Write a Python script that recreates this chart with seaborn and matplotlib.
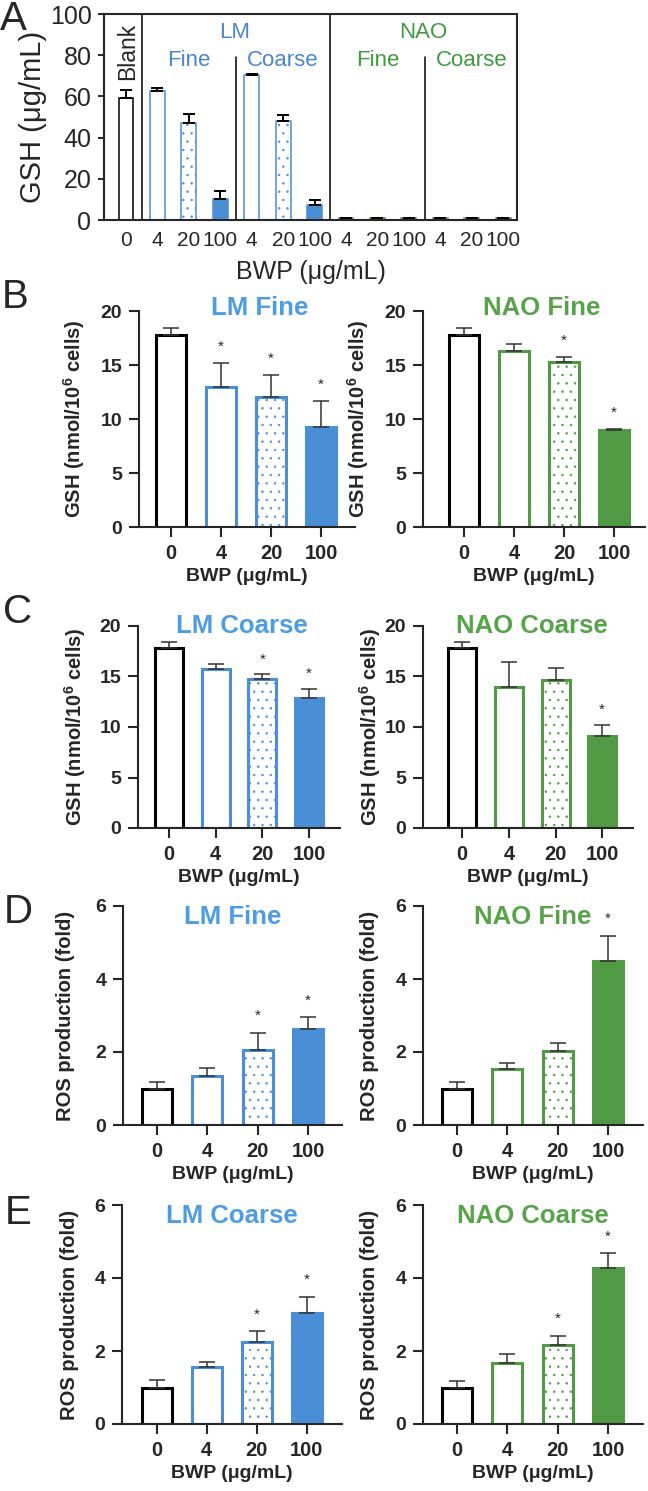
import numpy as np
import pandas as pd
import matplotlib
matplotlib.use('Agg')
import matplotlib.pyplot as plt
import seaborn as sns

# ─────────────────────────── Data ────────────────────────────────────────────

DOSES = ['0', '4', '20', '100']

# Panel A: cell-free GSH depletion
A_MATERIAL = ['Blank', 'LM', 'LM', 'LM', 'LM', 'LM', 'LM',
              'NAO', 'NAO', 'NAO', 'NAO', 'NAO', 'NAO']
A_SIZE = ['Blank', 'Fine', 'Fine', 'Fine', 'Coarse', 'Coarse', 'Coarse',
          'Fine', 'Fine', 'Fine', 'Coarse', 'Coarse', 'Coarse']
A_DOSE = ['0', '4', '20', '100', '4', '20', '100', '4', '20', '100', '4', '20', '100']
A_GSH = [59.0, 62.5, 47.0, 10.0, 70.5, 48.0, 7.5, 0.8, 0.8, 0.8, 0.8, 0.8, 0.8]
A_SEM = [4.3, 1.8, 4.3, 4.0, 0.3, 3.0, 2.0, 0.3, 0.3, 0.3, 0.3, 0.3, 0.3]

# Panels B/C: cellular GSH (nmol/10^6 cells)
GSH_LM_FINE = [17.8, 13.0, 12.0, 9.3]
GSH_LM_FINE_SEM = [0.6, 2.2, 2.1, 2.4]
GSH_LM_FINE_SIG = [False, True, True, True]

GSH_NAO_FINE = [17.8, 16.3, 15.25, 9.0]
GSH_NAO_FINE_SEM = [0.6, 0.6, 0.45, 0.1]
GSH_NAO_FINE_SIG = [False, False, True, True]

GSH_LM_COARSE = [17.8, 15.7, 14.8, 12.9]
GSH_LM_COARSE_SEM = [0.6, 0.5, 0.4, 0.9]
GSH_LM_COARSE_SIG = [False, False, True, True]

GSH_NAO_COARSE = [17.8, 14.0, 14.7, 9.1]
GSH_NAO_COARSE_SEM = [0.6, 2.4, 1.1, 1.1]
GSH_NAO_COARSE_SIG = [False, False, False, True]

# Panels D/E: ROS production (fold)
ROS_LM_FINE = [1.0, 1.34, 2.05, 2.63]
ROS_LM_FINE_SEM = [0.19, 0.22, 0.48, 0.32]
ROS_LM_FINE_SIG = [False, False, True, True]

ROS_NAO_FINE = [1.0, 1.54, 2.02, 4.49]
ROS_NAO_FINE_SEM = [0.19, 0.17, 0.23, 0.70]
ROS_NAO_FINE_SIG = [False, False, False, True]

ROS_LM_COARSE = [1.0, 1.55, 2.26, 3.04]
ROS_LM_COARSE_SEM = [0.20, 0.15, 0.29, 0.45]
ROS_LM_COARSE_SIG = [False, False, True, True]

ROS_NAO_COARSE = [1.0, 1.67, 2.17, 4.27]
ROS_NAO_COARSE_SEM = [0.18, 0.25, 0.25, 0.41]
ROS_NAO_COARSE_SIG = [False, False, True, True]

# ─────────────────────────── Style ───────────────────────────────────────────

W, H = 648, 1491
BLUE = '#4a8fd6'
GREEN = '#4f9a42'
BLUE_TXT = '#4d9de0'
GREEN_TXT = '#55a548'
ERR = '#333333'
MAT_COLOR = {'Blank': 'black', 'LM': BLUE, 'NAO': GREEN}

sns.set_style('ticks')
plt.rcParams['font.family'] = ['Liberation Sans', 'DejaVu Sans']
plt.rcParams['mathtext.default'] = 'regular'
plt.rcParams['hatch.linewidth'] = 0.5

fig = plt.figure(figsize=(W / 100, H / 100), dpi=100)


def px_axes(left, top, right, bottom):
    return fig.add_axes([left / W, 1 - bottom / H, (right - left) / W, (bottom - top) / H])


def bar_style(dose, color):
    # blank = open black, 4 = open, 20 = dotted, 100 = filled
    if dose == '0':
        return 'white', 'black', ''
    if dose == '4':
        return 'white', color, ''
    if dose == '20':
        return 'white', color, '..'
    return color, color, ''


# ─────────────────────────── Panel A ─────────────────────────────────────────

axA = px_axes(104, 14, 517, 220)
ids = [str(i) for i in range(len(A_GSH))]
dfA = pd.DataFrame({'id': ids, 'gsh': A_GSH})
sns.barplot(data=dfA, x='id', y='gsh', order=ids, color='white', width=0.47,
            errorbar=None, saturation=1, ax=axA)
for p, mat, dose in zip(axA.patches, A_MATERIAL, A_DOSE):
    fc, ec, h = bar_style(dose, MAT_COLOR[mat])
    p.set_facecolor(fc)
    p.set_edgecolor(ec)
    p.set_hatch(h)
    p.set_linewidth(1.1)
axA.errorbar(range(len(A_GSH)), A_GSH, yerr=[np.zeros(len(A_SEM)), A_SEM], fmt='none',
             ecolor='black', elinewidth=1.4, capsize=4.5, capthick=1.4, zorder=5)

# dividers between materials (full) and sizes (partial)
for i in range(1, len(A_MATERIAL)):
    if A_MATERIAL[i] != A_MATERIAL[i - 1]:
        axA.axvline(i - 0.5, color='black', lw=1.1)
    elif A_SIZE[i] != A_SIZE[i - 1]:
        axA.plot([i - 0.5, i - 0.5], [0, 79], color='black', lw=1.1)

axA.text(0.06, 82, 'Blank', rotation=90, ha='center', va='center', fontsize=16.5)
for mat, txt_color in [('LM', '#4a86d0'), ('NAO', '#3f9a3f')]:
    idx = [i for i, m in enumerate(A_MATERIAL) if m == mat]
    axA.text(np.mean(idx) - 0.05, 91, mat, ha='center', va='center', fontsize=16,
             color=txt_color)
    for size in ['Fine', 'Coarse']:
        sidx = [i for i in idx if A_SIZE[i] == size]
        axA.text(np.mean(sidx), 77.5, size, ha='center', va='center', fontsize=16,
                 color=txt_color)

axA.set_xlim(-0.7, len(A_GSH) - 1 + 0.44)
axA.set_ylim(0, 100)
axA.set_yticks([0, 20, 40, 60, 80, 100])
axA.set_xticks(range(len(A_DOSE)), A_DOSE)
axA.tick_params(axis='y', labelsize=18, length=4, width=1.4, pad=5)
axA.tick_params(axis='x', labelsize=15, length=0, pad=8)
for s in axA.spines.values():
    s.set_linewidth(1.5)
axA.set_ylabel('GSH (μg/mL)', fontsize=21, labelpad=2)
axA.set_xlabel('BWP (μg/mL)', fontsize=18, labelpad=7)

# ─────────────────────────── Panels B–E ──────────────────────────────────────

GSH_LABEL = r'GSH (nmol/10$^{6}$ cells)'
ROS_LABEL = 'ROS production (fold)'

PANELS = [
    # box (l, t, r, b), xlim, values, sem, sig, colors, title, title pos, ylabel, pad, ymax, ticks
    ((139, 311, 355, 527), (-0.64, 3.68), GSH_LM_FINE, GSH_LM_FINE_SEM, GSH_LM_FINE_SIG,
     BLUE, BLUE_TXT, 'LM Fine', (1.78, 20.3), GSH_LABEL, 10, 20, [0, 5, 10, 15, 20]),
    ((423, 311, 645, 527), (-0.82, 3.62), GSH_NAO_FINE, GSH_NAO_FINE_SEM, GSH_NAO_FINE_SIG,
     GREEN, GREEN_TXT, 'NAO Fine', (1.56, 20.3), GSH_LABEL, 10, 20, [0, 5, 10, 15, 20]),
    ((138, 626, 340, 828), (-0.66, 3.66), GSH_LM_COARSE, GSH_LM_COARSE_SEM, GSH_LM_COARSE_SIG,
     BLUE, BLUE_TXT, 'LM Coarse', (1.56, 20.0), GSH_LABEL, 8, 20, [0, 5, 10, 15, 20]),
    ((423, 626, 633, 828), (-0.84, 3.66), GSH_NAO_COARSE, GSH_NAO_COARSE_SEM, GSH_NAO_COARSE_SIG,
     GREEN, GREEN_TXT, 'NAO Coarse', (1.5, 20.0), GSH_LABEL, 1, 20, [0, 5, 10, 15, 20]),
    ((123, 906, 342, 1125), (-0.67, 3.67), ROS_LM_FINE, ROS_LM_FINE_SEM, ROS_LM_FINE_SIG,
     BLUE, BLUE_TXT, 'LM Fine', (1.5, 5.7), ROS_LABEL, 15, 6, [0, 2, 4, 6]),
    ((423, 906, 643, 1125), (-0.67, 3.69), ROS_NAO_FINE, ROS_NAO_FINE_SEM, ROS_NAO_FINE_SIG,
     GREEN, GREEN_TXT, 'NAO Fine', (1.5, 5.7), ROS_LABEL, 12, 6, [0, 2, 4, 6]),
    ((122, 1205, 342, 1424), (-0.69, 3.7), ROS_LM_COARSE, ROS_LM_COARSE_SEM, ROS_LM_COARSE_SIG,
     BLUE, BLUE_TXT, 'LM Coarse', (1.5, 5.7), ROS_LABEL, 11, 6, [0, 2, 4, 6]),
    ((423, 1205, 643, 1424), (-0.67, 3.69), ROS_NAO_COARSE, ROS_NAO_COARSE_SEM, ROS_NAO_COARSE_SIG,
     GREEN, GREEN_TXT, 'NAO Coarse', (1.5, 5.7), ROS_LABEL, 12, 6, [0, 2, 4, 6]),
]

for (box, xlim, vals, sem, sig, color, tcolor, title, tpos,
     ylabel, ypad, ymax, yticks) in PANELS:
    ax = px_axes(*box)
    df = pd.DataFrame({'dose': DOSES, 'value': vals})
    sns.barplot(data=df, x='dose', y='value', order=DOSES, color='white', width=0.6,
                errorbar=None, saturation=1, ax=ax)
    for p, dose in zip(ax.patches, DOSES):
        fc, ec, h = bar_style(dose, color)
        p.set_facecolor(fc)
        p.set_edgecolor(ec)
        p.set_hatch(h)
        p.set_linewidth(2.2)
    ax.errorbar(range(4), vals, yerr=[np.zeros(4), sem], fmt='none', ecolor=ERR,
                elinewidth=1.1, capsize=6, capthick=1.1, zorder=5)
    for i, (v, e, s) in enumerate(zip(vals, sem, sig)):
        if s:
            ax.text(i, v + e + 0.075 * ymax, '*', ha='center', va='center', fontsize=11)
    ax.text(tpos[0], tpos[1], title, ha='center', va='center', fontsize=18.5,
            fontweight='bold', color=tcolor)
    ax.set_xlim(*xlim)
    ax.set_ylim(0, ymax)
    ax.set_yticks(yticks, [str(t) for t in yticks], fontsize=14, fontweight='bold')
    ax.set_xticks(range(4), DOSES, fontsize=14.5, fontweight='bold')
    ax.tick_params(axis='both', length=7, width=1.5, pad=5)
    sns.despine(ax=ax)
    for s in ['left', 'bottom']:
        ax.spines[s].set_linewidth(1.5)
    ax.set_ylabel(ylabel, fontsize=14.5, fontweight='bold', labelpad=ypad)
    ax.set_xlabel('BWP (μg/mL)', fontsize=14, fontweight='bold', labelpad=4)

# panel letters
for letter, x, y in [('A', 13, 19), ('B', 15, 297), ('C', 18, 612), ('D', 18, 912), ('E', 18, 1213)]:
    fig.text(x / W, 1 - y / H, letter, fontsize=29, ha='center', va='center')

fig.savefig('out.png', dpi=100, facecolor='white')
